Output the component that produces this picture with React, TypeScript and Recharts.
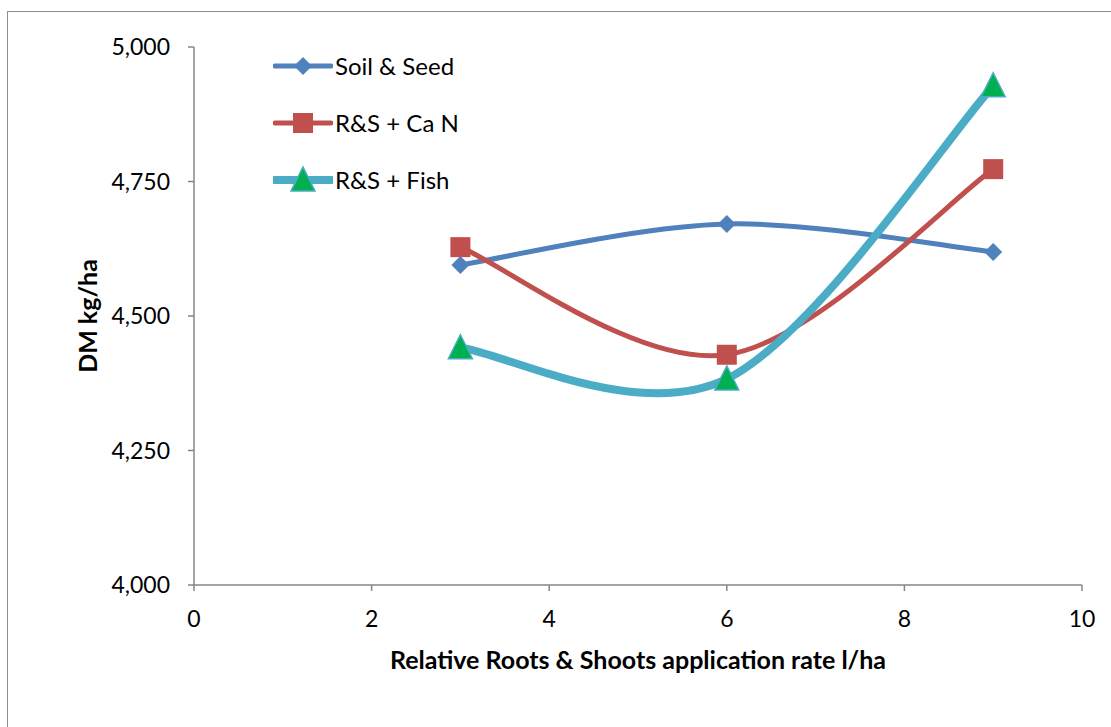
import React from "react";
import { LineChart, Line, XAxis, YAxis, Legend } from "recharts";

const rates = [3, 6, 9];
const soilSeed = [4595, 4671, 4619];
const rsCaN = [4628, 4428, 4773];
const rsFish = [4441, 4383, 4928];
const xTicks = [0, 2, 4, 6, 8, 10];
const yTicks = [4000, 4250, 4500, 4750, 5000];

const data = rates.map((x, i) => ({
  x,
  soil: soilSeed[i],
  can: rsCaN[i],
  fish: rsFish[i],
}));

const FONT = "Lato, 'Open Sans', sans-serif";
const AXIS = "#868686";
const BLUE = "#4F81BD";
const RED = "#C0504D";
const CYAN = "#4BACC6";
const GREEN = "#00B050";

// Excel style smoothed line (catmull-rom like bezier)
function excelSmooth(context: any) {
  let pts: number[][] = [];
  return {
    areaStart() {},
    areaEnd() {},
    lineStart() {
      pts = [];
    },
    point(x: number, y: number) {
      pts.push([+x, +y]);
    },
    lineEnd() {
      const n = pts.length;
      if (!n) return;
      context.moveTo(pts[0][0], pts[0][1]);
      for (let i = 0; i < n - 1; i++) {
        const p0 = pts[Math.max(i - 1, 0)];
        const p1 = pts[i];
        const p2 = pts[i + 1];
        const p3 = pts[Math.min(i + 2, n - 1)];
        context.bezierCurveTo(
          p1[0] + (p2[0] - p0[0]) / 6,
          p1[1] + (p2[1] - p0[1]) / 6,
          p2[0] - (p3[0] - p1[0]) / 6,
          p2[1] - (p3[1] - p1[1]) / 6,
          p2[0],
          p2[1]
        );
      }
    },
  };
}

function Diamond({ cx, cy }: { cx: number; cy: number }) {
  const r = 9;
  return (
    <polygon
      points={`${cx},${cy - r} ${cx + r},${cy} ${cx},${cy + r} ${cx - r},${cy}`}
      fill={BLUE}
    />
  );
}

function Square({ cx, cy }: { cx: number; cy: number }) {
  return <rect x={cx - 10} y={cy - 10} width={20} height={20} fill={RED} />;
}

function Triangle({ cx, cy }: { cx: number; cy: number }) {
  return (
    <polygon
      points={`${cx},${cy - 13} ${cx + 12},${cy + 11} ${cx - 12},${cy + 11}`}
      fill={GREEN}
      stroke={CYAN}
      strokeWidth={1.5}
    />
  );
}

const legendItems = [
  { name: "Soil & Seed", color: BLUE, width: 5, Marker: Diamond },
  { name: "R&S + Ca N", color: RED, width: 5, Marker: Square },
  { name: "R&S + Fish", color: CYAN, width: 8, Marker: Triangle },
];

function LegendBox() {
  return (
    <div style={{ fontFamily: FONT, fontSize: 24, color: "#000" }}>
      {legendItems.map(({ name, color, width, Marker }) => (
        <div key={name} style={{ display: "flex", alignItems: "center", height: 57 }}>
          <svg width={60} height={30}>
            <line x1={2} y1={15} x2={58} y2={15} stroke={color} strokeWidth={width} strokeLinecap="round" />
            <Marker cx={30} cy={15} />
          </svg>
          <span style={{ marginLeft: 2 }}>{name}</span>
        </div>
      ))}
    </div>
  );
}

export default function App() {
  const tickStyle = { fontFamily: FONT, fontSize: 23, fill: "#000" };
  const labelStyle = { fontFamily: FONT, fontSize: 25, fontWeight: 700, fill: "#000" };
  return (
    <div style={{ position: "absolute", left: 0, top: 0, width: 1111, height: 727, overflow: "hidden", background: "#fff" }}>
      <div
        style={{
          position: "absolute",
          left: 7,
          top: 11,
          width: 1200,
          height: 800,
          border: "1.5px solid #8c8c8c",
        }}
      />
      <div style={{ position: "absolute", left: 0, top: 0 }}>
        <LineChart width={1111} height={727} data={data} margin={{ top: 47, right: 29, bottom: 52, left: -18 }}>
          <XAxis
            dataKey="x"
            type="number"
            domain={[0, 10]}
            ticks={xTicks}
            stroke={AXIS}
            strokeWidth={1.5}
            tickSize={6}
            tickMargin={20}
            tick={tickStyle}
            height={90}
            label={{
              value: "Relative Roots & Shoots application rate l/ha",
              position: "insideBottom",
              offset: 6,
              style: labelStyle,
            }}
          />
          <YAxis
            type="number"
            domain={[4000, 5000]}
            ticks={yTicks}
            stroke={AXIS}
            strokeWidth={1.5}
            tickSize={6}
            tickMargin={18}
            width={212}
            tick={tickStyle}
            tickFormatter={(v: number) => v.toLocaleString("en-US")}
            label={{
              value: "DM kg/ha",
              angle: -90,
              position: "center",
              style: labelStyle,
            }}
          />
          <Legend
            layout="horizontal"
            verticalAlign="middle"
            align="center"
            wrapperStyle={{ left: 273, top: 37, width: 300, height: 171 }}
            content={() => <LegendBox />}
          />
          <Line
            dataKey="soil"
            name="Soil & Seed"
            type={excelSmooth as any}
            stroke={BLUE}
            strokeWidth={5}
            dot={(p: any) => <Diamond key={`s${p.index}`} cx={p.cx} cy={p.cy} />}
            activeDot={false}
            isAnimationActive={false}
          />
          <Line
            dataKey="can"
            name="R&S + Ca N"
            type={excelSmooth as any}
            stroke={RED}
            strokeWidth={5}
            dot={(p: any) => <Square key={`c${p.index}`} cx={p.cx} cy={p.cy} />}
            activeDot={false}
            isAnimationActive={false}
          />
          <Line
            dataKey="fish"
            name="R&S + Fish"
            type={excelSmooth as any}
            stroke={CYAN}
            strokeWidth={8}
            dot={(p: any) => <Triangle key={`f${p.index}`} cx={p.cx} cy={p.cy} />}
            activeDot={false}
            isAnimationActive={false}
          />
        </LineChart>
      </div>
    </div>
  );
}
